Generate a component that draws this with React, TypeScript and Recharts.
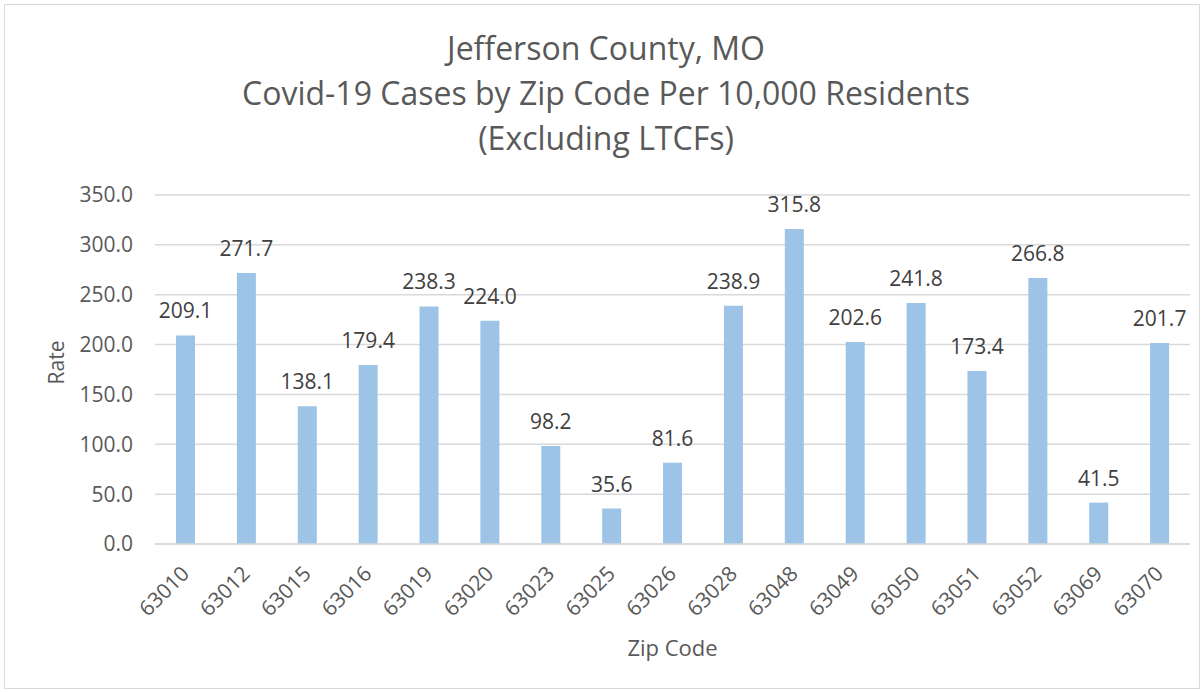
import React from 'react'
import { Bar, BarChart, CartesianGrid, LabelList, XAxis, YAxis } from 'recharts'

const zipCodes = [
  '63010', '63012', '63015', '63016', '63019', '63020', '63023', '63025', '63026',
  '63028', '63048', '63049', '63050', '63051', '63052', '63069', '63070'
]
const rates = [
  209.1, 271.7, 138.1, 179.4, 238.3, 224.0, 98.2, 35.6, 81.6,
  238.9, 315.8, 202.6, 241.8, 173.4, 266.8, 41.5, 201.7
]
const yTicks = [0, 50, 100, 150, 200, 250, 300, 350]
const titleLines = [
  'Jefferson County, MO',
  'Covid-19 Cases by Zip Code Per 10,000 Residents',
  '(Excluding LTCFs)'
]

const data = zipCodes.map((zip, i) => ({ zip, rate: rates[i] }))

const FONT = '"Open Sans", sans-serif'
const TEXT = '#595959'

function ZipTick(props: any) {
  const { x, y, payload } = props
  const ax = x + 5
  const ay = y + 23
  return (
    <text
      x={ax}
      y={ay}
      transform={`rotate(-45, ${ax}, ${ay})`}
      textAnchor='end'
      fill={TEXT}
      fontSize={21}
      fontFamily={FONT}
    >
      {payload.value}
    </text>
  )
}

function RateLabel(props: any) {
  const { viewBox } = props
  const cy = viewBox.y + viewBox.height / 2 - 7
  return (
    <text
      x={56}
      y={cy}
      transform={`rotate(-90, 56, ${cy})`}
      textAnchor='middle'
      dominantBaseline='central'
      fill={TEXT}
      fontSize={21}
      fontFamily={FONT}
    >
      Rate
    </text>
  )
}

export default function App() {
  return (
    <div style={{ position: 'absolute', left: 0, top: 0, width: 1204, height: 692, background: '#fff' }}>
      <div
        style={{
          position: 'absolute',
          left: 4,
          top: 4,
          width: 1194,
          height: 683,
          border: '1px solid #D9D9D9'
        }}
      />
      <div
        style={{
          position: 'absolute',
          left: 0,
          top: 25,
          width: 1212,
          textAlign: 'center',
          fontFamily: FONT,
          fontSize: 32,
          lineHeight: '45px',
          color: TEXT
        }}
      >
        {titleLines.map((t) => (
          <div key={t}>{t}</div>
        ))}
      </div>
      <BarChart
        width={1204}
        height={692}
        data={data}
        margin={{ top: 195, right: 14, bottom: 0, left: 0 }}
        barCategoryGap={0}
        style={{ position: 'absolute', left: 0, top: 0 }}
      >
        <CartesianGrid vertical={false} stroke='#D9D9D9' strokeWidth={1.5} />
        <XAxis
          dataKey='zip'
          height={148}
          interval={0}
          tickLine={false}
          axisLine={{ stroke: '#D9D9D9', strokeWidth: 1.5 }}
          tick={<ZipTick />}
          label={{
            value: 'Zip Code',
            position: 'insideBottom',
            offset: 36,
            fill: TEXT,
            fontSize: 22,
            fontFamily: FONT
          }}
        />
        <YAxis
          width={155}
          domain={[0, 350]}
          ticks={yTicks}
          tickFormatter={(v: number) => v.toFixed(1)}
          tickLine={false}
          axisLine={false}
          tickMargin={16}
          tick={{ fill: TEXT, fontSize: 21, fontFamily: FONT }}
          label={<RateLabel />}
        />
        <Bar dataKey='rate' fill='#9DC3E6' barSize={19} isAnimationActive={false}>
          <LabelList
            dataKey='rate'
            position='top'
            offset={17}
            formatter={(v: any) => Number(v).toFixed(1)}
            fill='#404040'
            fontSize={21}
            fontFamily={FONT}
          />
        </Bar>
      </BarChart>
    </div>
  )
}
